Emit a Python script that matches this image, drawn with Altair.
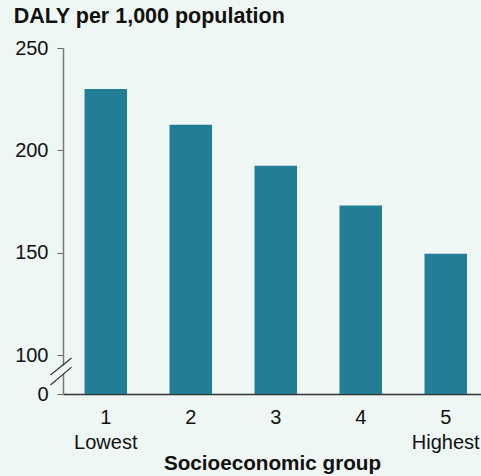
import altair as alt
import pandas as pd

groups = [1, 2, 3, 4, 5]
daly = [230, 212.5, 192.5, 173, 149.5]
y_ticks = [0, 100, 150, 200, 250]

BG = "#eef7f3"
BAR = "#227e97"
FONT = "Liberation Sans"

df = pd.DataFrame({"group": groups, "daly": daly})

yscale = alt.Scale(domain=[0, 100, 250], range=[346, 307, 0], nice=False, zero=False)

bars = alt.Chart(df).mark_bar(color=BAR).encode(
    x=alt.X("group:O",
            scale=alt.Scale(paddingInner=0.5, paddingOuter=0.209, align=0.606),
            axis=alt.Axis(title="Socioeconomic group", labelAngle=0,
                          labelExpr="datum.value == 1 ? ['1', 'Lowest'] : datum.value == 5 ? ['5', 'Highest'] : datum.label",
                          labelFontSize=20, labelFont=FONT, labelColor="#111",
                          labelLineHeight=25, labelPadding=13, labelBaseline="top",
                          ticks=False, domainColor="#333", domainWidth=1.5,
                          titleFont=FONT, titleFontSize=20.7, titleFontWeight="bold",
                          titleColor="#111", titlePadding=1)),
    y=alt.Y("daly:Q", scale=yscale,
            axis=alt.Axis(title=None, values=y_ticks, labelFontSize=20, labelFont=FONT,
                          labelColor="#111", tickSize=6, tickColor="#666",
                          domainColor="#777", domainWidth=1.5, labelPadding=9,
                          grid=False)),
)

brk = pd.DataFrame({"y1": [48.7, 23], "y2": [92.3, 69]})
breaks = alt.Chart(brk).mark_rule(color="#333", strokeWidth=1.2).encode(
    x=alt.value(-12.5), x2=alt.value(8.5),
    y=alt.Y("y1:Q", scale=yscale), y2="y2:Q",
)
gap = pd.DataFrame({"y1": [51], "y2": [73]})
gapmark = alt.Chart(gap).mark_rule(color=BG, strokeWidth=4).encode(
    x=alt.value(0),
    y=alt.Y("y1:Q", scale=yscale), y2="y2:Q",
)

chart = alt.layer(bars, gapmark, breaks).properties(
    width=418, height=346,
    autosize=alt.AutoSizeParams(type="none"),
    padding={"left": 63, "top": 48, "right": 0, "bottom": 82},
    background=BG,
    title=alt.Title("DALY per 1,000 population", anchor="start", dx=-1,
                    font=FONT, fontSize=21.5, fontWeight="bold", color="#111", offset=11),
).configure_view(stroke=None)

chart.save("out.html", embed_options={"renderer": "svg", "actions": False})
